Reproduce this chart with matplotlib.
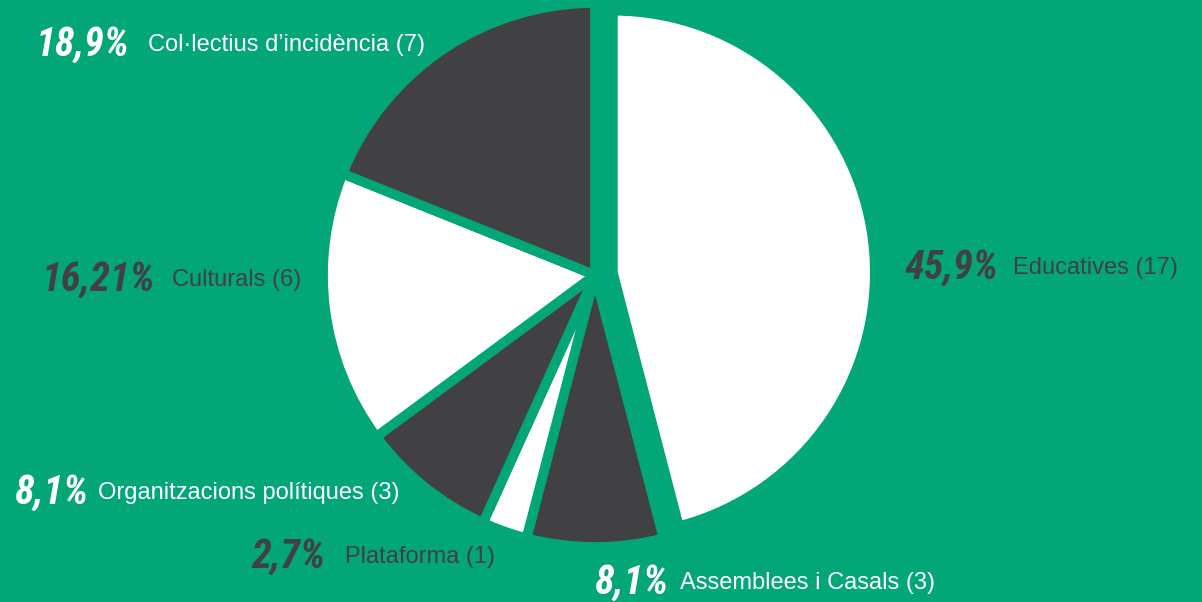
import matplotlib
matplotlib.use('Agg')
import matplotlib.pyplot as plt
from matplotlib import font_manager

# dades
categories = ['Educatives', 'Assemblees i Casals', 'Plataforma',
              'Organitzacions polítiques', 'Culturals', 'Col·lectius d’incidència']
counts = [17, 3, 1, 3, 6, 7]
pct_labels = ['45,9%', '8,1%', '2,7%', '8,1%', '16,21%', '18,9%']

# estil
bg = '#02a677'
dark = '#414143'
slice_colors = ['#ffffff', dark, '#ffffff', dark, '#ffffff', dark]
text_colors = [dark, '#ffffff', dark, '#ffffff', dark, '#ffffff']
explode = [18, 0, 0, 0, 0, 0]  # en px (unitats de dades)

# posicions de les etiquetes (px, origen a dalt a l'esquerra): x final del %, x del text, y
label_pos = [(998, 1013, 268), (668, 680, 583), (325, 345, 557),
             (88, 98, 493), (155, 172, 280), (130, 148, 45)]

# font condensada per als percentatges, si n'hi ha cap
names = {f.name for f in font_manager.fontManager.ttflist}
cond_font = next((n for n in ['Liberation Sans Narrow', 'Roboto Condensed',
                              'Open Sans Condensed'] if n in names), None)
if cond_font:
    pct_font = dict(family=cond_font, fontstretch='normal')
else:
    pct_font = dict(family='DejaVu Sans', fontstretch='condensed')

W, H = 1202, 602
fig = plt.figure(figsize=(W / 100, H / 100), dpi=100, facecolor=bg)
ax = fig.add_axes([0, 0, 1, 1])
ax.set_facecolor(bg)

wedges, _ = ax.pie(counts, colors=slice_colors, startangle=90, counterclock=False,
                   explode=explode, center=(595, H - 275), radius=272, frame=True,
                   wedgeprops=dict(edgecolor=bg, linewidth=7))
# la porció destacada és una mica més petita a l'original
wedges[0].set_radius(262)
ax.set_xlim(0, W)
ax.set_ylim(0, H)
ax.set_aspect('equal')
ax.axis('off')

for cat, n, pct, tc, (xp, xt, y) in zip(categories, counts, pct_labels, text_colors, label_pos):
    ax.text(xp, H - y, pct, color=tc, fontsize=29, fontweight='bold', fontstyle='italic',
            ha='right', va='center', **pct_font)
    ax.text(xt, H - y, f'{cat} ({n})', color=tc, fontsize=17, family='Liberation Sans',
            ha='left', va='center')

fig.savefig('out.png', dpi=100, facecolor=bg)
